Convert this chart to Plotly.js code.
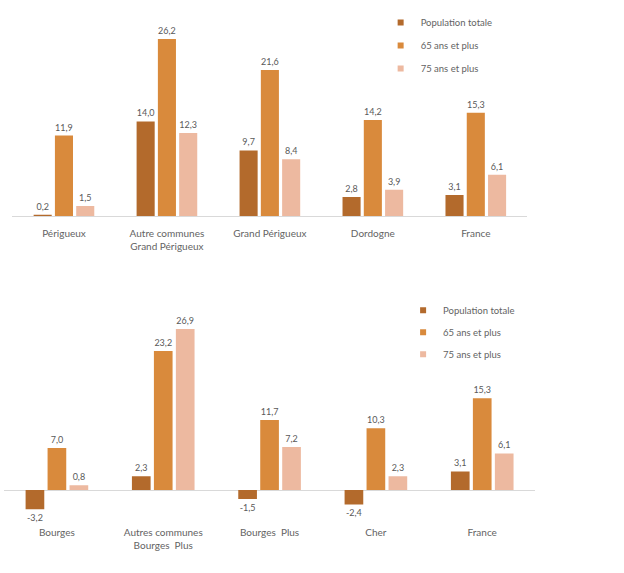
<!DOCTYPE html>
<html>
<head>
<meta charset="utf-8">
<script src="https://cdn.plot.ly/plotly-3.0.1.min.js"></script>
<style>html,body{margin:0;padding:0;background:#fff;}#chart{width:624px;height:573px;}</style>
</head>
<body>
<div id="chart"></div>
<script>
const seriesNames = ["Population totale", "65 ans et plus", "75 ans et plus"];
const colors = ["#B36A2C", "#D98A3C", "#EDB9A0"];

const topCategories = ["Périgueux", "Autre communes<br>Grand Périgueux", "Grand Périgueux", "Dordogne", "France"];
const topPop = [0.2, 14.0, 9.7, 2.8, 3.1];
const top65 = [11.9, 26.2, 21.6, 14.2, 15.3];
const top75 = [1.5, 12.3, 8.4, 3.9, 6.1];

const botCategories = ["Bourges", "Autres communes<br>Bourges  Plus", "Bourges  Plus", "Cher", "France"];
const botPop = [-3.2, 2.3, -1.5, -2.4, 3.1];
const bot65 = [7.0, 23.2, 11.7, 10.3, 15.3];
const bot75 = [0.8, 26.9, 7.2, 2.3, 6.1];

const fmt = v => v.toFixed(1).replace('.', ',');
const FAM = "Lato, 'Open Sans', sans-serif";
const textFont = {family: FAM, size: 9, color: "#595959"};

function mk(cats, vals, i, xa, ya) {
  return {
    type: 'bar', x: cats, y: vals, name: seriesNames[i],
    marker: {color: colors[i]},
    text: vals.map(fmt), textposition: 'outside', cliponaxis: false,
    textfont: textFont, xaxis: xa, yaxis: ya, showlegend: false,
    hoverinfo: 'skip'
  };
}
function legendEntry(i, xa, ya, leg) {
  return {
    type: 'scatter', mode: 'markers', x: [null], y: [null], name: seriesNames[i],
    marker: {color: colors[i], symbol: 'square', size: 6},
    xaxis: xa, yaxis: ya, legend: leg, legendgroup: leg + i, showlegend: true, hoverinfo: 'skip'
  };
}

const data = [
  mk(topCategories, topPop, 0, 'x', 'y'),
  mk(topCategories, top65, 1, 'x', 'y'),
  mk(topCategories, top75, 2, 'x', 'y'),
  mk(botCategories, botPop, 0, 'x2', 'y2'),
  mk(botCategories, bot65, 1, 'x2', 'y2'),
  mk(botCategories, bot75, 2, 'x2', 'y2'),
  legendEntry(0, 'x', 'y', 'legend'), legendEntry(1, 'x', 'y', 'legend'), legendEntry(2, 'x', 'y', 'legend'),
  legendEntry(0, 'x2', 'y2', 'legend2'), legendEntry(1, 'x2', 'y2', 'legend2'), legendEntry(2, 'x2', 'y2', 'legend2')
];

const axFont = {family: FAM, size: 10, color: "#636363"};
const legFont = {family: FAM, size: 9.5, color: "#636363"};

const layout = {
  width: 624, height: 573,
  margin: {l: 0, r: 0, t: 0, b: 0},
  paper_bgcolor: '#fff', plot_bgcolor: '#fff',
  barmode: 'group', bargap: 0.38, bargroupgap: 0.15,
  showlegend: true,
  xaxis: {domain: [0.02, 0.845], anchor: 'y', showgrid: false, showline: false, ticks: '', tickfont: axFont, ticklabelstandoff: 10, fixedrange: true},
  yaxis: {domain: [0.623, 0.965], anchor: 'x', range: [0, 29], showgrid: false, showticklabels: false, zeroline: true, zerolinecolor: '#D9D9D9', zerolinewidth: 1, showline: false, ticks: ''},
  xaxis2: {domain: [0.006, 0.858], anchor: 'y2', showgrid: false, showline: false, ticks: '', tickfont: axFont, ticklabelstandoff: 11, fixedrange: true},
  yaxis2: {domain: [0.103, 0.448], anchor: 'x2', range: [-4, 29], showgrid: false, showticklabels: false, zeroline: true, zerolinecolor: '#D9D9D9', zerolinewidth: 1, showline: false, ticks: ''},
  legend: {x: 0.61, y: 0.986, xanchor: 'left', yanchor: 'top', font: legFont, bgcolor: 'rgba(0,0,0,0)', tracegroupgap: 4, itemwidth: 30},
  legend2: {x: 0.646, y: 0.484, xanchor: 'left', yanchor: 'top', font: legFont, bgcolor: 'rgba(0,0,0,0)', tracegroupgap: 3, itemwidth: 30}
};

Plotly.newPlot('chart', data, layout, {displayModeBar: false, staticPlot: true});
</script>
</body>
</html>
